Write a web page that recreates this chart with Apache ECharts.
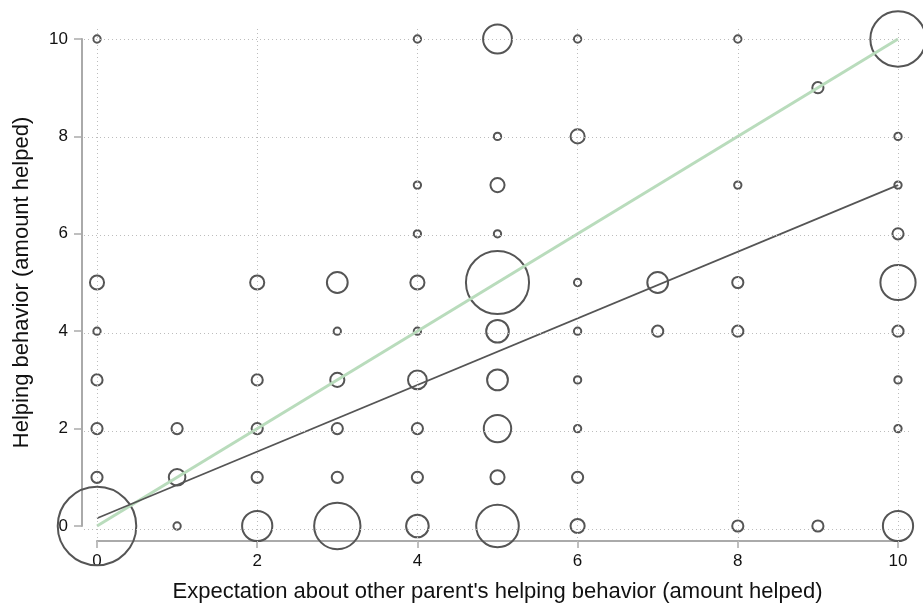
<!DOCTYPE html>
<html><head><meta charset="utf-8">
<script src="https://cdn.jsdelivr.net/npm/echarts@6/dist/echarts.min.js"></script>
<style>html,body{margin:0;padding:0;background:#fff}#c{width:923px;height:608px}</style>
</head><body><div id="c"></div>
<script>
// Tick values
const xTicks = [0, 2, 4, 6, 8, 10];
const yTicks = [0, 2, 4, 6, 8, 10];
// Observations: expectation (x), helping (y), frequency (weight)
const pointX = [0,0,0,0,0,0,0, 1,1,1, 2,2,2,2,2, 3,3,3,3,3,3, 4,4,4,4,4,4,4,4,4, 5,5,5,5,5,5,5,5,5,5, 6,6,6,6,6,6,6,6, 7,7, 8,8,8,8,8, 9,9, 10,10,10,10,10,10,10,10,10];
const pointY = [10,5,4,3,2,1,0, 2,1,0, 5,3,2,1,0, 5,4,3,2,1,0, 10,7,6,5,4,3,2,1,0, 10,8,7,6,5,4,3,2,1,0, 10,8,5,4,3,2,1,0, 5,4, 10,7,5,4,0, 9,0, 10,8,7,6,5,4,3,2,0];
const pointN = [1,3,1,2,2,2,75, 2,4,1, 3,2,2,2,12, 6,1,3,2,2,27, 1,1,1,3,1,5,2,2,7, 11,1,3,1,49,7,6,10,3,23, 1,3,1,1,1,1,2,3, 6,2, 1,1,2,2,2, 2,2, 38,1,1,2,16,2,1,1,12];
// Fitted line and 45-degree reference line endpoints
const fitX = [0, 10];
const fitY = [0.16, 7.0];
const refX = [0, 10];
const refY = [0, 10];

const FONT = 'Liberation Sans, Arial, Helvetica, sans-serif';
const chart = echarts.init(document.getElementById('c'), null, {renderer: 'canvas'});

const scatterData = pointX.map((x, i) => [x, pointY[i], pointN[i]]);

chart.setOption({
  animation: false,
  backgroundColor: '#fff',
  grid: [
    {left: 97, right: 25, top: 39, bottom: 80},
    {left: 84, right: 11, top: 27, bottom: 66}
  ],
  xAxis: [
    {
      gridIndex: 0, type: 'value', min: 0, max: 10, interval: 2, offset: 15,
      axisLine: {show: true, onZero: false, lineStyle: {color: '#aaaaaa', width: 2}},
      axisTick: {show: true, length: 7, lineStyle: {color: '#aaaaaa', width: 1.5}},
      axisLabel: {fontSize: 17, color: '#111', margin: 12, fontFamily: FONT},
      splitLine: {show: false},
      name: "Expectation about other parent's helping behavior (amount helped)",
      nameLocation: 'middle', nameGap: 40,
      nameTextStyle: {fontSize: 22, color: '#111', fontFamily: FONT}
    },
    {gridIndex: 1, type: 'value', min: -0.162, max: 10.175, show: false}
  ],
  yAxis: [
    {
      gridIndex: 0, type: 'value', min: 0, max: 10, interval: 2, offset: 15,
      axisLine: {show: true, onZero: false, lineStyle: {color: '#aaaaaa', width: 2}},
      axisTick: {show: true, length: 8, lineStyle: {color: '#aaaaaa', width: 1.5}},
      axisLabel: {fontSize: 17, color: '#111', margin: 14, fontFamily: FONT},
      splitLine: {show: false},
      name: 'Helping behavior (amount helped)',
      nameLocation: 'middle', nameGap: 49,
      nameTextStyle: {fontSize: 22, color: '#111', fontFamily: FONT}
    },
    {gridIndex: 1, type: 'value', min: -0.266, max: 10.245, show: false}
  ],
  series: [
    {
      type: 'line', xAxisIndex: 1, yAxisIndex: 1, data: [], z: 1, silent: true,
      markLine: {
        silent: true, symbol: ['none', 'none'], label: {show: false},
        lineStyle: {type: [1, 3], color: '#bdbdbd', width: 1},
        emphasis: {disabled: true},
        data: xTicks.map(v => ({xAxis: v})).concat(yTicks.map(v => ({yAxis: v})))
      }
    },
    {
      type: 'scatter', xAxisIndex: 0, yAxisIndex: 0, data: scatterData, z: 2, clip: false,
      symbol: 'circle',
      symbolSize: d => 9.3 * Math.sqrt(d[2]) - 2,
      itemStyle: {color: 'rgba(0,0,0,0)', borderColor: '#555555', borderWidth: 2, opacity: 1}
    },
    {
      type: 'line', xAxisIndex: 0, yAxisIndex: 0, z: 3, clip: false, symbol: 'none',
      data: refX.map((x, i) => [x, refY[i]]),
      lineStyle: {color: '#b9dcbc', width: 3}
    },
    {
      type: 'line', xAxisIndex: 0, yAxisIndex: 0, z: 4, clip: false, symbol: 'none',
      data: fitX.map((x, i) => [x, fitY[i]]),
      lineStyle: {color: '#555555', width: 1.7}
    }
  ]
});
</script>
</body></html>
